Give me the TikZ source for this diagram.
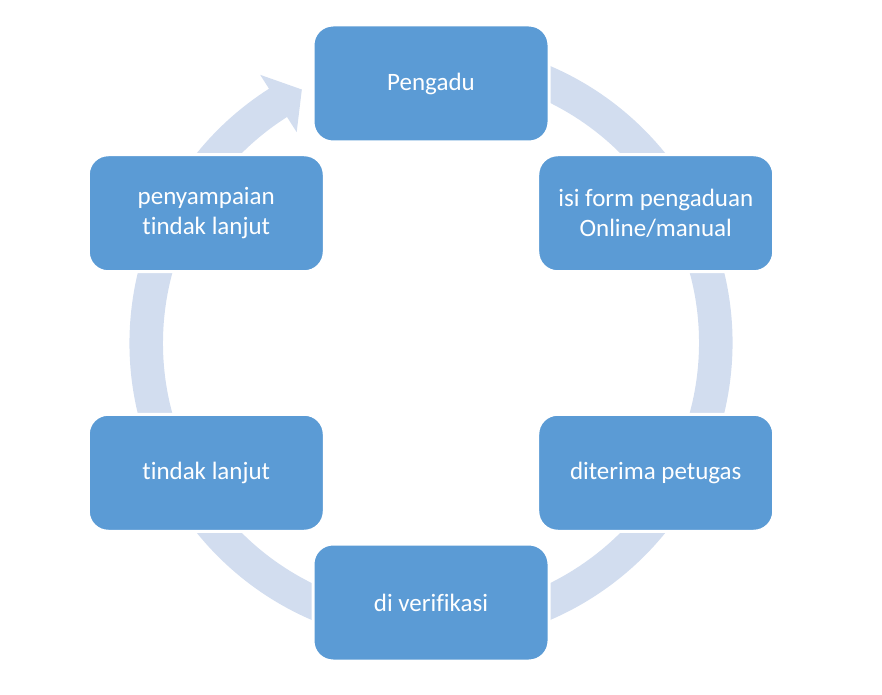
\documentclass[tikz,border=0pt]{standalone}
\usepackage{fontspec}
\setmainfont{Carlito}[RawFeature={-liga;-clig;-dlig}]
\usetikzlibrary{calc}
\definecolor{boxblue}{HTML}{5B9BD5}
\definecolor{ringblue}{HTML}{D2DDEF}
\begin{document}
\begin{tikzpicture}[x=1pt,y=1pt,
  cyclebox/.style={rectangle, rounded corners=20pt, fill=boxblue, draw=white,
    line width=3pt, minimum width=236pt, minimum height=117pt, inner sep=0pt,
    text=white, align=center, font=\fontsize{25}{30}\selectfont}]
\useasboundingbox (0,0) rectangle (882,694);
\coordinate (C) at (431,351);
% ring arrow
\begin{scope}[shift={(C)}]
\fill[ringblue] (80:301.5) arc[start angle=80,end angle=-237.5,radius=301.5]
  -- (-237.5:318) -- (-243:284.5) -- (-237.5:250)
  -- (-237.5:268) arc[start angle=-237.5,end angle=80,radius=268] -- cycle;
\end{scope}
% boxes
\node[cyclebox] (b1) at ($(C)+(90:259.5)$) {Pengadu};
\node[cyclebox] (b2) at ($(C)+(30:259.5)$) {isi form pengaduan\\Online/manual};
\node[cyclebox] (b3) at ($(C)+(-30:259.5)$) {diterima petugas};
\node[cyclebox] (b4) at ($(C)+(-90:259.5)$) {di verifikasi};
\node[cyclebox] (b5) at ($(C)+(-150:259.5)$) {tindak lanjut};
\node[cyclebox] (b6) at ($(C)+(150:259.5)$) {penyampaian\\tindak lanjut};
\end{tikzpicture}
\end{document}
